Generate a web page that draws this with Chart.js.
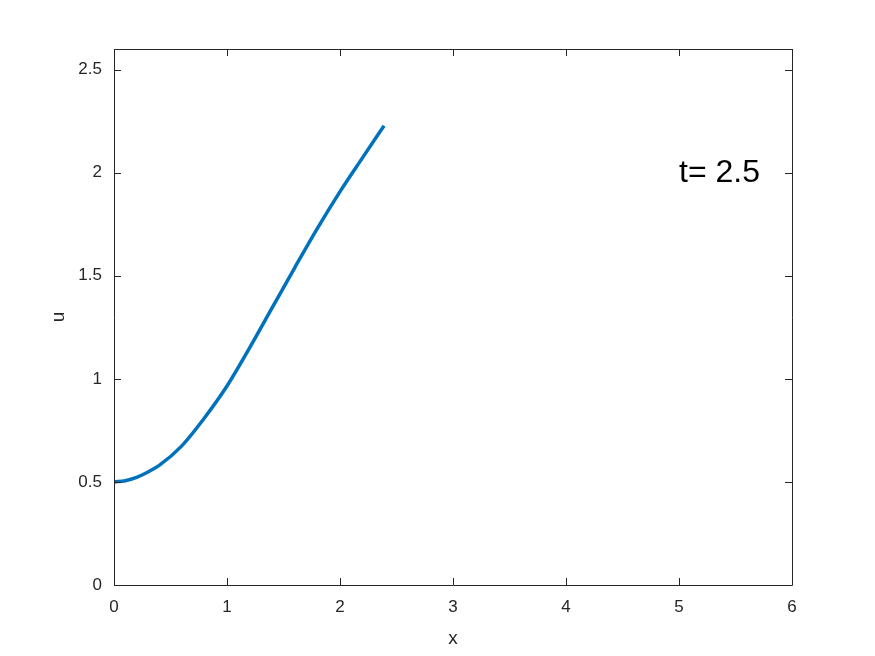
<!DOCTYPE html>
<html>
<head>
<meta charset="utf-8">
<script src="https://cdn.jsdelivr.net/npm/chart.js@4"></script>
<style>
  body { margin: 0; background: #fff; }
  #wrap { width: 875px; height: 656px; }
</style>
</head>
<body>
<div id="wrap"><canvas id="plot" width="875" height="656"></canvas></div>
<script>
// curve
const xVals = [0, 0.1, 0.2, 0.3, 0.4, 0.6, 0.8, 1.0, 1.2, 1.4, 1.6, 1.8, 2.0, 2.2, 2.39];
const uVals = [0.5, 0.506, 0.522, 0.548, 0.58, 0.675, 0.81, 0.965, 1.15, 1.345, 1.54, 1.73, 1.908, 2.073, 2.228];

const xTicks = [0, 1, 2, 3, 4, 5, 6];
const yTicks = [0, 0.5, 1, 1.5, 2, 2.5];

const labelText = 't= 2.5';
const labelPos = [5, 2];

const axisColor = '#262626';
const lineColor = '#0072BD';
const fontFam = '"Liberation Sans", Arial, sans-serif';

// box and inward ticks on all four sides, like matlab
const boxPlugin = {
    id: 'box',
    afterDatasetsDraw(chart) {
        const ctx = chart.ctx;
        const a = chart.chartArea;
        const xs = chart.scales.x, ys = chart.scales.y;
        const len = 7;
        ctx.save();
        ctx.strokeStyle = axisColor;
        ctx.lineWidth = 1;
        ctx.beginPath();
        ctx.rect(Math.round(a.left) + 0.5, Math.round(a.top) + 0.5,
                 Math.round(a.right - a.left), Math.round(a.bottom - a.top));
        xTicks.forEach(v => {
            const px = Math.round(xs.getPixelForValue(v)) + 0.5;
            ctx.moveTo(px, a.bottom); ctx.lineTo(px, a.bottom - len);
            ctx.moveTo(px, a.top); ctx.lineTo(px, a.top + len);
        });
        yTicks.forEach(v => {
            const py = Math.round(ys.getPixelForValue(v)) + 0.5;
            ctx.moveTo(a.left, py); ctx.lineTo(a.left + len, py);
            ctx.moveTo(a.right, py); ctx.lineTo(a.right - len, py);
        });
        ctx.stroke();

        ctx.fillStyle = '#000';
        ctx.font = '32px ' + fontFam;
        ctx.textAlign = 'left';
        ctx.textBaseline = 'middle';
        ctx.fillText(labelText, xs.getPixelForValue(labelPos[0]), ys.getPixelForValue(labelPos[1]));
        ctx.restore();
    }
};

const ctx = document.getElementById('plot').getContext('2d');
const chart = new Chart(ctx, {
    type: 'line',
    data: {
        datasets: [{
            data: xVals.map((x, i) => ({ x: x, y: uVals[i] })),
            borderColor: lineColor,
            borderWidth: 3.5,
            pointRadius: 0,
            cubicInterpolationMode: 'monotone',
            fill: false
        }]
    },
    options: {
        responsive: false,
        animation: false,
        layout: { padding: { left: 0, top: 49, right: 83, bottom: 0 } },
        plugins: { legend: { display: false }, tooltip: { enabled: false } },
        scales: {
            x: {
                type: 'linear',
                min: 0, max: 6,
                afterFit: s => { s.height = 71; },
                afterBuildTicks: s => { s.ticks = xTicks.map(v => ({ value: v })); },
                grid: { display: false, drawTicks: false },
                border: { display: false },
                ticks: {
                    padding: 12,
                    color: axisColor,
                    font: { family: fontFam, size: 17 },
                    callback: v => String(v)
                },
                title: {
                    display: true, text: 'x', color: axisColor,
                    font: { family: fontFam, size: 19 },
                    padding: { top: 0, bottom: 6 }
                }
            },
            y: {
                type: 'linear',
                min: 0, max: 2.6,
                afterFit: s => { s.width = 114; },
                afterBuildTicks: s => { s.ticks = yTicks.map(v => ({ value: v })); },
                grid: { display: false, drawTicks: false },
                border: { display: false },
                ticks: {
                    padding: 12,
                    color: axisColor,
                    font: { family: fontFam, size: 17 },
                    callback: v => String(v)
                },
                title: {
                    display: true, text: 'u', color: axisColor,
                    font: { family: fontFam, size: 19 },
                    padding: { top: 47, bottom: 0 }
                }
            }
        }
    },
    plugins: [boxPlugin]
});
</script>
</body>
</html>
